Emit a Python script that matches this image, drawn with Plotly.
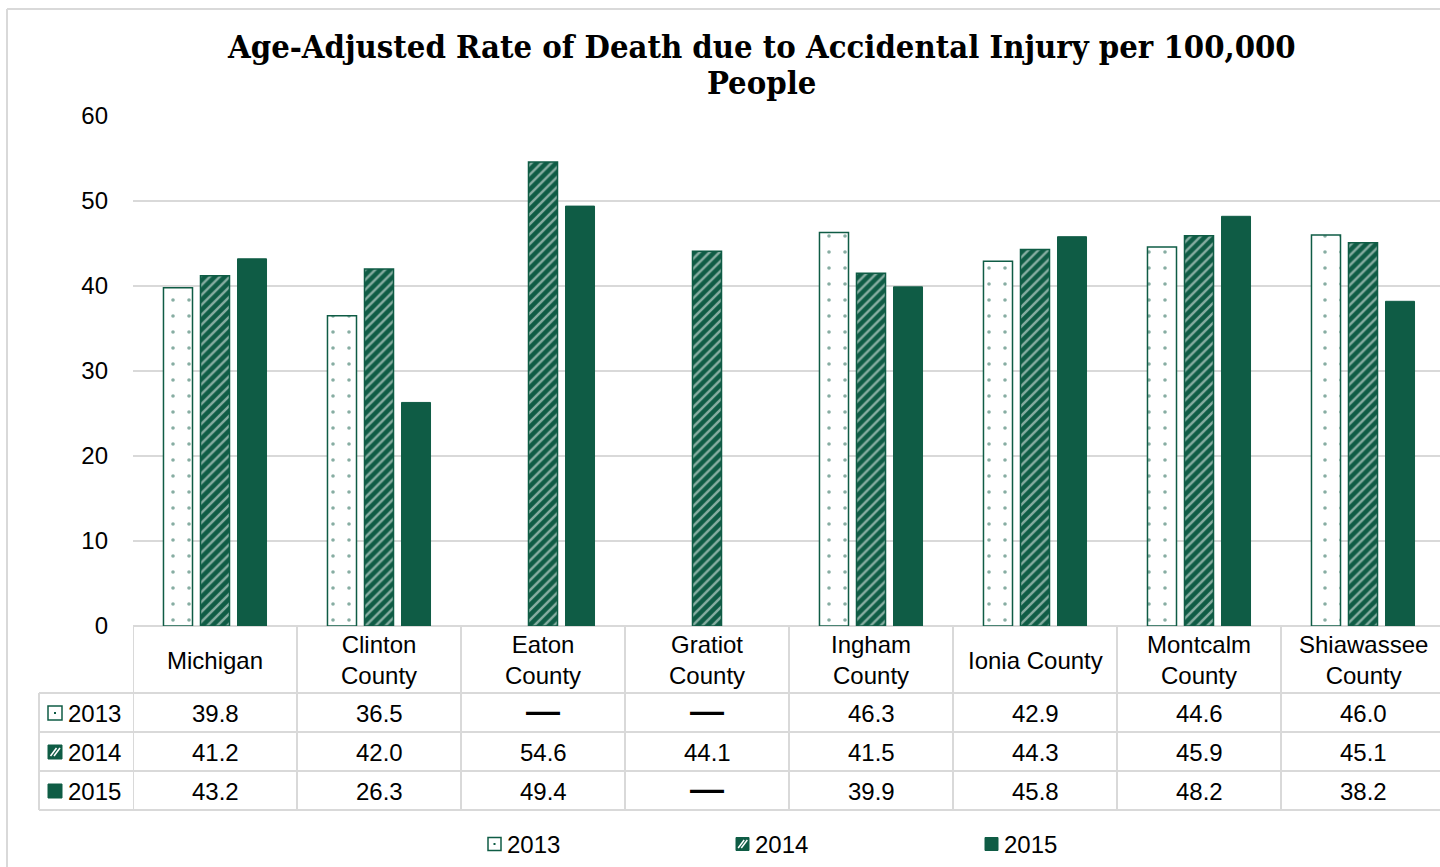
import plotly.graph_objects as go

# Data: age-adjusted death rate due to accidental injury (per 100,000)
categories = ["Michigan", "Clinton County", "Eaton County", "Gratiot County",
              "Ingham County", "Ionia County", "Montcalm County", "Shiawassee County"]
header_labels = ["Michigan", "Clinton<br>County", "Eaton<br>County", "Gratiot<br>County",
                 "Ingham<br>County", "Ionia County", "Montcalm<br>County", "Shiawassee<br>County"]
years = ["2013", "2014", "2015"]
rate_2013 = [39.8, 36.5, None, None, 46.3, 42.9, 44.6, 46.0]
rate_2014 = [41.2, 42.0, 54.6, 44.1, 41.5, 44.3, 45.9, 45.1]
rate_2015 = [43.2, 26.3, 49.4, None, 39.9, 45.8, 48.2, 38.2]
y_ticks = [0, 10, 20, 30, 40, 50, 60]
title_lines = ["Age-Adjusted Rate of Death due to Accidental Injury per 100,000", "People"]

GREEN = "#0f5c45"
GRID = "#d9d9d9"
FONT = "Liberation Sans, Arial, sans-serif"

W, H = 1440, 867
L, T, B = 133, 116, 626
PW, PH = W - L, B - T


def xp(px):
    return (px - L) / PW


def yp(py):
    return (B - py) / PH


fig = go.Figure()

styles = {
    "2013": dict(color="white", line=dict(color=GREEN, width=1.5),
                 pattern=dict(shape=".", fgcolor=GREEN, bgcolor="white", size=16, solidity=0.04)),
    "2014": dict(color=GREEN, line=dict(color=GREEN, width=1.5),
                 pattern=dict(shape="/", fgcolor="white", bgcolor=GREEN, size=7, solidity=0.35)),
    "2015": dict(color=GREEN, line=dict(color=GREEN, width=1)),
}
series = {"2013": rate_2013, "2014": rate_2014, "2015": rate_2015}

for yr in years:
    fig.add_trace(go.Bar(x=categories, y=series[yr], name=yr, marker=styles[yr],
                         showlegend=False))

shapes = []
annotations = []

# outer chart frame (left and top edges)
shapes.append(dict(type="line", xref="paper", yref="paper", x0=xp(7), x1=xp(1445),
                   y0=yp(9), y1=yp(9), line=dict(color=GRID, width=2)))
shapes.append(dict(type="line", xref="paper", yref="paper", x0=xp(7), x1=xp(7),
                   y0=yp(9), y1=yp(870), line=dict(color=GRID, width=2)))

# data table grid
row_lines = [693, 732, 771, 810]
for r in row_lines:
    shapes.append(dict(type="line", xref="paper", yref="paper", x0=xp(39), x1=xp(1445),
                       y0=yp(r), y1=yp(r), line=dict(color=GRID, width=2)))
shapes.append(dict(type="line", xref="paper", yref="paper", x0=xp(39), x1=xp(39),
                   y0=yp(693), y1=yp(810), line=dict(color=GRID, width=2)))
for i in range(len(categories) + 1):
    shapes.append(dict(type="line", xref="x", yref="paper", x0=i - 0.5, x1=i - 0.5,
                       y0=0, y1=yp(810), line=dict(color=GRID, width=2)))

# category header row
for i, lab in enumerate(header_labels):
    annotations.append(dict(x=i, y=yp(660), xref="x", yref="paper", text=lab,
                            showarrow=False, font=dict(family=FONT, size=24, color="black"),
                            xanchor="center", yanchor="middle"))

# table values
row_centers = {"2013": 713, "2014": 752, "2015": 791}
for yr in years:
    for i, v in enumerate(series[yr]):
        if v is None:
            annotations.append(dict(x=i, y=yp(row_centers[yr] - 3), xref="x", yref="paper",
                                    text="<b>—</b>", showarrow=False,
                                    font=dict(family=FONT, size=34, color="black"),
                                    xanchor="center", yanchor="middle"))
        else:
            annotations.append(dict(x=i, y=yp(row_centers[yr]), xref="x", yref="paper",
                                    text=f"{v:.1f}", showarrow=False,
                                    font=dict(family=FONT, size=24, color="black"),
                                    xanchor="center", yanchor="middle"))


def key(x0, yc, yr, s):
    """Small legend key square for a series."""
    y0, y1 = yp(yc + s / 2), yp(yc - s / 2)
    x1 = x0 + s
    if yr == "2013":
        shapes.append(dict(type="rect", xref="paper", yref="paper", x0=xp(x0), x1=xp(x1),
                           y0=y0, y1=y1, fillcolor="white", line=dict(color=GREEN, width=1.5)))
        shapes.append(dict(type="rect", xref="paper", yref="paper",
                           x0=xp(x0 + s / 2 - 1), x1=xp(x0 + s / 2 + 1),
                           y0=yp(yc + 1), y1=yp(yc - 1), fillcolor=GREEN, line=dict(width=0)))
    else:
        shapes.append(dict(type="rect", xref="paper", yref="paper", x0=xp(x0), x1=xp(x1),
                           y0=y0, y1=y1, fillcolor=GREEN, line=dict(color=GREEN, width=1)))
    if yr == "2014":
        for f in (0.35, 0.7):
            shapes.append(dict(type="line", xref="paper", yref="paper",
                               x0=xp(x0 + 2 + f * (s - 4) - 3), x1=xp(x0 + 2 + f * (s - 4) + 3),
                               y0=yp(yc + 4), y1=yp(yc - 4),
                               line=dict(color="white", width=1.5)))


# row labels with keys
for yr in years:
    key(48, row_centers[yr], yr, 14)
    annotations.append(dict(x=xp(66), y=yp(row_centers[yr]), xref="paper", yref="paper",
                            text=yr, showarrow=False, xanchor="left", yanchor="middle",
                            font=dict(family=FONT, size=24, color="black")))

# legend along the bottom
legend_x = {"2013": 488, "2014": 736, "2015": 985}
for yr in years:
    key(legend_x[yr], 844, yr, 13)
    annotations.append(dict(x=xp(legend_x[yr] + 17), y=yp(844), xref="paper", yref="paper",
                            text=yr, showarrow=False, xanchor="left", yanchor="middle",
                            font=dict(family=FONT, size=24, color="black")))

# title, two lines set with tighter leading
for line, yc in zip(title_lines, (46, 82)):
    annotations.append(dict(x=xp(761), y=yp(yc), xref="paper", yref="paper",
                            text=f"<b>{line}</b>", showarrow=False,
                            xanchor="center", yanchor="middle",
                            font=dict(family="DejaVu Serif Condensed, DejaVu Serif, serif",
                                      size=32.5, color="black")))

fig.update_layout(
    width=W, height=H,
    margin=dict(l=L, r=0, t=T, b=H - B, pad=0),
    paper_bgcolor="white", plot_bgcolor="white",
    barmode="group", bargap=0.323, bargroupgap=0.216,
    shapes=shapes, annotations=annotations,
    xaxis=dict(range=[-0.5, -0.5 + PW / 164], showticklabels=False, ticks="",
               showgrid=False, zeroline=False, showline=False, fixedrange=True),
    yaxis=dict(range=[0, 60], tickvals=y_ticks, showgrid=True, gridcolor=GRID, gridwidth=2,
               zeroline=True, zerolinecolor=GRID, zerolinewidth=2, ticks="",
               ticklabelstandoff=24, tickfont=dict(family=FONT, size=24, color="black"),
               fixedrange=True),
    font=dict(family=FONT),
)

fig.write_html("out.html")
